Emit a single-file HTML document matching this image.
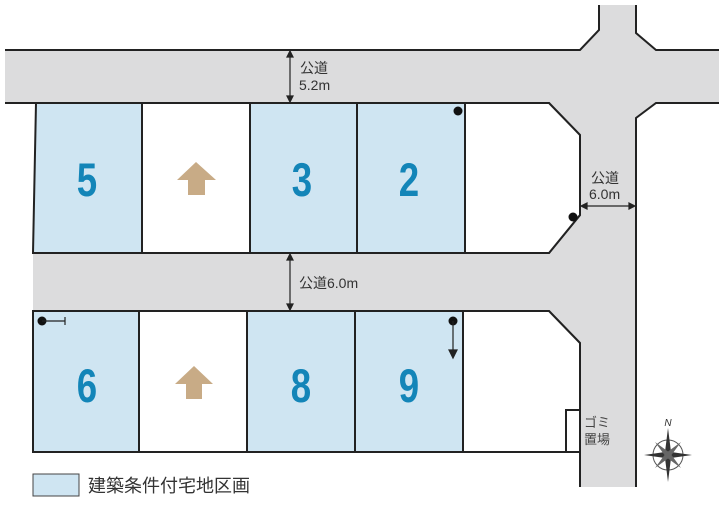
<!DOCTYPE html>
<html><head><meta charset="utf-8"><style>
body{margin:0;background:#fff;width:719px;height:500px;overflow:hidden}
svg text{font-family:"Liberation Sans","Noto Sans CJK JP",sans-serif}
</style></head><body>
<svg width="719" height="500" viewBox="0 0 719 500" xmlns="http://www.w3.org/2000/svg">
<path d="M5,50 L580,50 L599,30 L599,5 L636,5 L636,33 L656,50 L719,50 L719,103 L656,103 L636,118 L636,487 L580,487 L580,343 L549,311 L33,311 L33,253 L549,253 L580,215 L580,135 L549,103 L5,103 Z" fill="#dcdcdd"/>
<g fill="none" stroke="#222" stroke-width="2">
<path d="M5,50 L580,50 L599,30 L599,5"/>
<path d="M636,5 L636,33 L656,50 L719,50"/>
<path d="M719,103 L656,103 L636,118 L636,487"/>
<path d="M5,103 L549,103 L580,135 L580,215 L549,253 L33,253"/>
<path d="M33,311 L549,311 L580,343 L580,487"/>
</g>
<g stroke="#222" stroke-width="2">
<path d="M36,103 L142,103 L142,253 L33,253 Z" fill="#cfe5f2"/>
<rect x="142" y="103" width="108" height="150" fill="#fff"/>
<rect x="250" y="103" width="107" height="150" fill="#cfe5f2"/>
<rect x="357" y="103" width="108" height="150" fill="#cfe5f2"/>
<path d="M465,103 L549,103 L580,135 L580,215 L549,253 L465,253 Z" fill="#fff"/>
<rect x="33" y="311" width="106" height="141" fill="#cfe5f2"/>
<rect x="139" y="311" width="108" height="141" fill="#fff"/>
<rect x="247" y="311" width="108" height="141" fill="#cfe5f2"/>
<rect x="355" y="311" width="108" height="141" fill="#cfe5f2"/>
<path d="M463,311 L549,311 L580,343 L580,452 L463,452 Z" fill="#fff"/>
<rect x="566" y="410" width="14" height="42" fill="#fff"/>
</g>
<g fill="#1385b8" font-size="47" font-weight="bold" text-anchor="middle">
<text transform="translate(87,196) scale(0.78,1)">5</text>
<text transform="translate(302,196) scale(0.78,1)">3</text>
<text transform="translate(409,196) scale(0.78,1)">2</text>
<text transform="translate(87,402) scale(0.78,1)">6</text>
<text transform="translate(301,402) scale(0.78,1)">8</text>
<text transform="translate(409,402) scale(0.78,1)">9</text>
</g>
<path d="M196,162 L216,180 L205,180 L205,195 L188,195 L188,180 L177,180 Z" fill="#c8ab86"/>
<path d="M194,366 L213,384 L202,384 L202,399 L186,399 L186,384 L175,384 Z" fill="#c8ab86"/>
<g stroke="#222" stroke-width="1.2" fill="#222">
<line x1="290" y1="54" x2="290" y2="99"/>
<path d="M287,57 L290,51 L293,57Z M287,96 L290,102 L293,96Z"/>
<line x1="290" y1="257" x2="290" y2="307"/>
<path d="M287,260 L290,254 L293,260Z M287,304 L290,310 L293,304Z"/>
<line x1="584" y1="206" x2="632" y2="206"/>
<path d="M587,203 L581,206 L587,209Z M629,203 L635,206 L629,209Z"/>
</g>
<g fill="#333" font-size="14">
<text x="300" y="73">公道</text><text x="299" y="90">5.2m</text>
<text x="299" y="288">公道6.0m</text>
<text x="591" y="183">公道</text><text x="589" y="199">6.0m</text>
</g>
<g fill="#111">
<circle cx="458" cy="111" r="4.5"/>
<circle cx="573" cy="217" r="4.5"/>
<circle cx="42" cy="321" r="4.5"/>
<circle cx="453" cy="321" r="4.5"/>
</g>
<g stroke="#222" stroke-width="1.2" fill="#222">
<line x1="42" y1="321" x2="65" y2="321"/><line x1="65" y1="317" x2="65" y2="325"/>
<line x1="453" y1="321" x2="453" y2="352"/><path d="M449,350 L453,358 L457,350Z"/>
</g>
<g fill="#444" font-size="13"><text x="584" y="427">ゴミ</text><text x="584" y="444">置場</text></g>
<g transform="translate(668,455)">
<circle r="15" fill="none" stroke="#555" stroke-width="1"/>
<path d="M0,-27 L3,-3 L0,0 L-3,-3Z M0,27 L3,3 L0,0 L-3,3Z M-24,0 L-3,-3 L0,0 L-3,3Z M24,0 L3,-3 L0,0 L3,3Z" fill="#333"/>
<path d="M-13,-13 L2,-2 L-2,2Z M13,13 L-2,2 L2,-2Z M13,-13 L2,2 L-2,-2Z M-13,13 L-2,-2 L2,2Z" fill="#666"/>
<text x="0" y="-29" font-size="10" font-style="italic" text-anchor="middle" fill="#333">N</text>
</g>
<rect x="33" y="474" width="46" height="22" fill="#cfe5f2" stroke="#444" stroke-width="1"/>
<text x="88" y="492" font-size="18" fill="#333">建築条件付宅地区画</text>
</svg>
</body></html>
